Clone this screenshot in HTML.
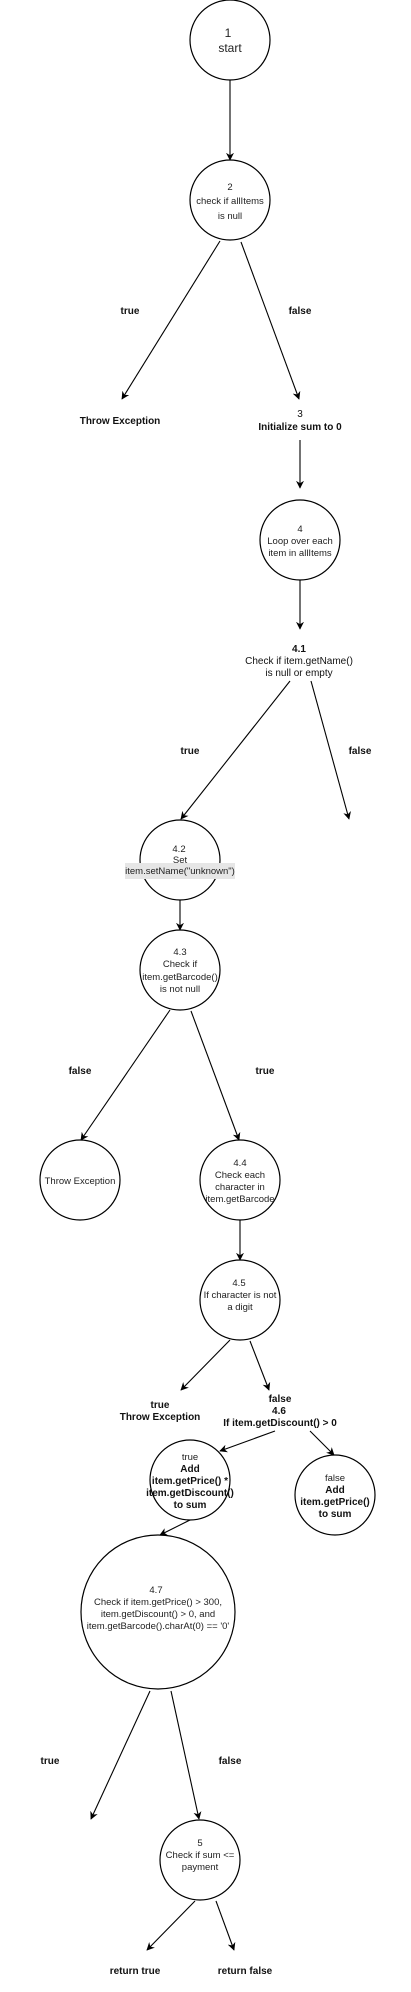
<!DOCTYPE html>
<html><head><meta charset="utf-8"><style>
html,body{margin:0;padding:0;background:#fff;}
svg{display:block;}
text{font-family:"Liberation Sans",Arial,sans-serif;fill:#222;text-anchor:middle;}
.n{font-size:9.5px;}
.b{font-size:10px;font-weight:bold;fill:#111;}
circle{fill:#fff;stroke:#000;stroke-width:1.2;}
line{stroke:#000;stroke-width:1.1;}
</style></head><body>
<svg width="411" height="1992" viewBox="0 0 411 1992" xmlns="http://www.w3.org/2000/svg">
<defs><marker id="a" viewBox="0 0 10 10" refX="9" refY="5" markerWidth="8" markerHeight="8" orient="auto" markerUnits="userSpaceOnUse"><path d="M0,0 L10,5 L0,10 L3,5 z" fill="#000"/></marker></defs>

<circle cx="230" cy="40" r="40"/>
<text x="228" y="37" style="font-size:12px">1</text>
<text x="230" y="52" style="font-size:12px">start</text>
<line x1="230" y1="80" x2="230" y2="160" marker-end="url(#a)"/>

<circle cx="230" cy="200" r="40"/>
<text class="n" x="230" y="190">2</text>
<text class="n" x="230" y="204">check if allItems</text>
<text class="n" x="230" y="219">is null</text>
<line x1="220" y1="241" x2="122" y2="399" marker-end="url(#a)"/>
<line x1="241" y1="242" x2="299" y2="399" marker-end="url(#a)"/>
<text class="b" x="130" y="314">true</text>
<text class="b" x="300" y="314">false</text>
<text class="b" x="120" y="424">Throw Exception</text>
<text class="b" x="300" y="417" style="font-weight:normal">3</text>
<text class="b" x="300" y="430">Initialize sum to 0</text>
<line x1="300" y1="440" x2="300" y2="488" marker-end="url(#a)"/>

<circle cx="300" cy="540" r="40"/>
<text class="n" x="300" y="532">4</text>
<text class="n" x="300" y="544">Loop over each</text>
<text class="n" x="300" y="556">item in allItems</text>
<line x1="300" y1="580" x2="300" y2="629" marker-end="url(#a)"/>
<text class="b" x="299" y="652">4.1</text>
<text class="b" x="299" y="664" style="font-weight:normal;font-size:10px">Check if item.getName()</text>
<text class="b" x="299" y="676" style="font-weight:normal;font-size:10px">is null or empty</text>
<line x1="290" y1="681" x2="181" y2="819" marker-end="url(#a)"/>
<line x1="311" y1="681" x2="349" y2="819" marker-end="url(#a)"/>
<text class="b" x="190" y="754">true</text>
<text class="b" x="360" y="754">false</text>

<circle cx="180" cy="860" r="40"/>
<text class="n" x="179" y="852">4.2</text>
<text class="n" x="180" y="863">Set</text>
<rect x="125" y="863" width="110" height="16" fill="#e6e6e6"/>
<text class="n" x="180" y="874">item.setName("unknown")</text>
<line x1="180" y1="900" x2="180" y2="930" marker-end="url(#a)"/>

<circle cx="180" cy="970" r="40"/>
<text class="n" x="180" y="955">4.3</text>
<text class="n" x="180" y="967">Check if</text>
<text class="n" x="180" y="980">item.getBarcode()</text>
<text class="n" x="180" y="992">is not null</text>
<line x1="170" y1="1010" x2="81" y2="1140" marker-end="url(#a)"/>
<line x1="191" y1="1011" x2="239" y2="1140" marker-end="url(#a)"/>
<text class="b" x="80" y="1074">false</text>
<text class="b" x="265" y="1074">true</text>

<circle cx="80" cy="1180" r="40"/>
<text class="n" x="80" y="1184">Throw Exception</text>

<circle cx="240" cy="1180" r="40"/>
<text class="n" x="240" y="1166">4.4</text>
<text class="n" x="240" y="1178">Check each</text>
<text class="n" x="240" y="1190">character in</text>
<text class="n" x="240" y="1202">item.getBarcode</text>
<line x1="240" y1="1220" x2="240" y2="1260" marker-end="url(#a)"/>

<circle cx="240" cy="1300" r="40"/>
<text class="n" x="239" y="1286">4.5</text>
<text class="n" x="240" y="1298">If character is not</text>
<text class="n" x="240" y="1310">a digit</text>
<line x1="230" y1="1340" x2="181" y2="1390" marker-end="url(#a)"/>
<line x1="250" y1="1341" x2="269" y2="1390" marker-end="url(#a)"/>
<text class="b" x="160" y="1408">true</text>
<text class="b" x="160" y="1420">Throw Exception</text>
<text class="b" x="280" y="1402">false</text>
<text class="b" x="279" y="1414">4.6</text>
<text class="b" x="280" y="1426">If item.getDiscount() &gt; 0</text>
<line x1="275" y1="1431" x2="220" y2="1451" marker-end="url(#a)"/>
<line x1="310" y1="1431" x2="334" y2="1455" marker-end="url(#a)"/>

<circle cx="190" cy="1480" r="40"/>
<text class="n" x="190" y="1460">true</text>
<text class="b" x="190" y="1472">Add</text>
<text class="b" x="190" y="1484">item.getPrice() *</text>
<text class="b" x="190" y="1496">item.getDiscount()</text>
<text class="b" x="190" y="1508">to sum</text>

<circle cx="335" cy="1495" r="40"/>
<text class="n" x="335" y="1481">false</text>
<text class="b" x="335" y="1493">Add</text>
<text class="b" x="335" y="1505">item.getPrice()</text>
<text class="b" x="335" y="1517">to sum</text>

<line x1="190" y1="1520" x2="160" y2="1535" marker-end="url(#a)"/>
<circle cx="158" cy="1612" r="77"/>
<text class="n" x="156" y="1593">4.7</text>
<text class="n" x="158" y="1605">Check if item.getPrice() &gt; 300,</text>
<text class="n" x="158" y="1617">item.getDiscount() &gt; 0, and</text>
<text class="n" x="158" y="1629">item.getBarcode().charAt(0) == '0'</text>
<line x1="150" y1="1691" x2="91" y2="1819" marker-end="url(#a)"/>
<line x1="171" y1="1691" x2="199" y2="1819" marker-end="url(#a)"/>
<text class="b" x="50" y="1764">true</text>
<text class="b" x="230" y="1764">false</text>

<circle cx="200" cy="1860" r="40"/>
<text class="n" x="200" y="1846">5</text>
<text class="n" x="200" y="1858">Check if sum &lt;=</text>
<text class="n" x="200" y="1870">payment</text>
<line x1="195" y1="1901" x2="147" y2="1950" marker-end="url(#a)"/>
<line x1="216" y1="1901" x2="234" y2="1950" marker-end="url(#a)"/>
<text class="b" x="135" y="1974">return true</text>
<text class="b" x="245" y="1974">return false</text>
</svg>
</body></html>
